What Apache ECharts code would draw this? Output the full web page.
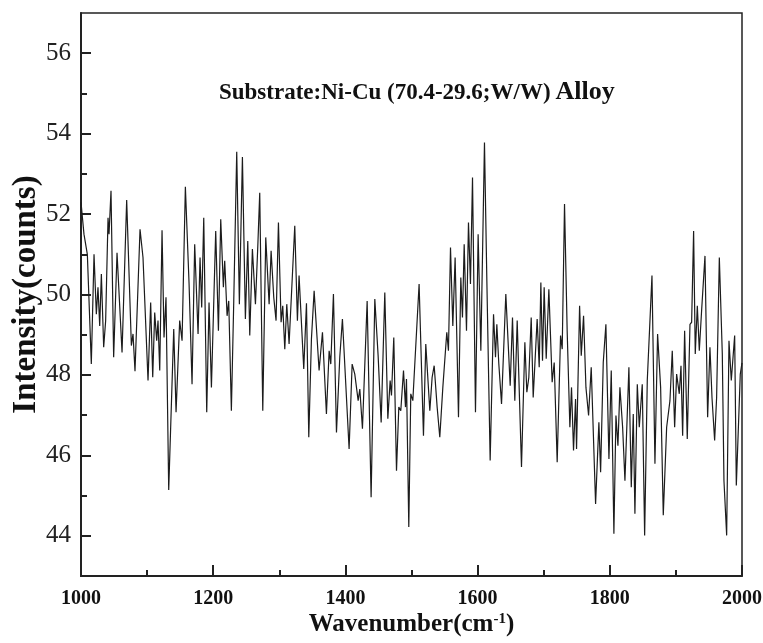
<!DOCTYPE html>
<html>
<head>
<meta charset="utf-8">
<script src="https://cdn.jsdelivr.net/npm/echarts@6/dist/echarts.min.js"></script>
<style>html,body{margin:0;padding:0;background:#fff}#c{width:763px;height:643px}</style>
</head>
<body>
<div id="c"></div>
<script>
// Data: [wavenumber (cm-1), intensity (counts)]
const segment1 = [[1000,52.29],[1004.5,51.5],[1009.6,51.0],[1015.6,48.27],[1019.7,51.0],[1023.2,49.51],[1025.7,50.18],[1028.3,49.22],[1030.8,50.51],[1034.3,48.69],[1037.3,49.35],[1040.9,51.91],[1042.4,51.5],[1045.4,52.58],[1049.4,48.44],[1054.5,51.04],[1062.1,48.56],[1069.1,52.35],[1076.2,48.73],[1078.7,49.02],[1081.7,48.09],[1089.3,51.62],[1093.8,50.92],[1101.4,47.86],[1105.4,49.80],[1108.5,47.94],[1111.5,49.55],[1114.5,48.85],[1116.5,49.35],[1119.1,48.11],[1122.6,51.60],[1125.6,48.93],[1128.6,49.93],[1132.7,45.14],[1140.3,49.14],[1143.8,47.07],[1149.3,49.35],[1152.9,48.85],[1157.9,52.68],[1163.5,50.26],[1168.0,47.77],[1172.0,51.25],[1177.1,49.02],[1180.1,50.92],[1182.6,49.68],[1185.7,51.91],[1190.2,47.07],[1193.7,49.80],[1197.3,47.69],[1203.8,51.58],[1207.9,49.10],[1211.4,51.87],[1215.4,50.18],[1217.4,50.84],[1221.0,49.47],[1223.5,49.84],[1227.5,47.11],[1231.1,49.84],[1235.6,53.55],[1239.6,49.76],[1244.2,53.42],[1248.7,49.39],[1252.3,51.33]];
const segment2 = [[1255.3,48.98],[1259.3,51.13],[1263.9,49.76],[1267.4,51.17],[1270.4,52.53],[1275.0,47.11],[1279.5,51.42],[1284.6,49.76],[1287.6,51.09],[1291.6,49.93],[1295.1,49.35],[1298.7,51.79],[1302.7,49.31],[1305.2,49.72],[1308.3,48.64],[1311.3,49.76],[1314.8,48.77],[1323.4,51.71],[1327.4,49.35],[1329.9,50.47],[1337.0,48.15],[1341.1,49.78],[1344.6,46.45],[1348.6,48.89],[1352.7,50.09],[1360.2,48.11],[1365.3,49.06],[1371.3,47.03],[1375.4,48.60],[1377.9,48.27],[1381.9,50.01],[1386.5,46.57],[1391.5,48.44],[1395.5,49.39],[1401.6,47.44],[1405.6,46.16],[1410.2,48.27],[1414.2,48.02],[1419.3,47.36],[1421.8,47.65],[1425.8,46.66],[1432.9,49.84],[1438.9,44.96],[1444.5,49.89],[1449.5,48.48],[1454.1,46.82],[1459.6,50.05],[1464.2,46.91],[1467.7,47.86],[1469.7,47.49],[1473.2,48.93],[1477.3,45.62],[1480.8,47.20],[1483.8,47.11],[1487.9,48.11],[1490.9,47.20],[1492.4,47.90],[1495.9,44.22]];
const segment3 = [[1498.9,47.53],[1502.0,47.36],[1511.5,50.26],[1518.1,46.49],[1521.6,48.77],[1527.7,47.11],[1531.2,47.94],[1534.3,48.23],[1538.8,47.20],[1542.8,46.45],[1547.4,47.69],[1553.4,49.06],[1555.9,48.60],[1559.0,51.17],[1562.5,49.22],[1566.0,50.92],[1571.1,46.95],[1574.6,50.42],[1577.1,49.43],[1579.7,51.25],[1583.2,49.10],[1586.2,51.79],[1589.2,50.26],[1592.3,52.91],[1596.8,47.07],[1600.8,51.50],[1604.9,48.60],[1610.4,53.78],[1614.0,50.34],[1619.0,45.87],[1624.1,49.51],[1627.1,48.44],[1629.1,49.26],[1632.1,48.27],[1636.2,47.28],[1642.7,50.01],[1649.3,47.73],[1652.8,49.43],[1656.3,47.36],[1659.9,49.35],[1666.4,45.71],[1671.5,48.81],[1674.5,47.57],[1677.5,47.94],[1681.1,49.43],[1684.1,47.44],[1690.1,49.39],[1693.2,48.19],[1695.7,50.30],[1698.2,48.35],[1700.7,50.18],[1703.8,48.40],[1707.8,50.13],[1712.8,47.82],[1715.9,48.31],[1720.4,45.83],[1725.5,48.98],[1728.0,48.64],[1731.5,52.25],[1735.5,49.10],[1739.6,46.70],[1742.1,47.69],[1745.1,46.12],[1748.2,47.40]];
const segment4 = [[1749.7,46.16],[1754.3,49.72],[1756.8,48.48],[1760.3,49.47],[1763.9,47.69],[1767.9,46.99],[1771.9,48.19],[1778.5,44.79],[1783.5,46.82],[1786.1,45.58],[1790.1,48.31],[1794.1,49.26],[1798.7,45.91],[1802.2,48.11],[1806.2,44.05],[1809.3,46.99],[1812.3,46.24],[1815.3,47.69],[1819.4,46.70],[1822.9,45.37],[1828.9,48.19],[1832.5,45.21],[1835.5,47.03],[1838.0,44.55],[1841.6,47.77],[1844.6,46.70],[1849.1,47.77],[1852.7,44.01],[1856.7,47.86],[1863.8,50.47],[1868.3,45.79],[1872.3,49.02],[1876.9,47.69],[1880.9,44.51],[1886.0,46.70],[1891.0,47.36],[1894.5,48.60],[1898.1,46.70],[1901.1,48.02],[1905.1,47.53],[1907.7,48.23],[1910.2,46.49],[1913.2,49.10],[1917.2,46.41],[1921.3,49.26],[1923.8,49.31],[1926.8,51.58],[1929.3,48.52],[1932.4,49.72],[1935.4,48.60],[1938.9,49.60],[1944.0,50.96],[1948.0,46.95],[1951.5,48.69],[1954.6,47.44],[1958.6,46.37],[1961.6,47.44],[1965.7,50.92],[1970.2,48.52],[1972.7,45.37],[1976.8,44.01],[1980.3,48.85],[1983.8,47.86],[1988.9,48.98],[1991.4,45.25],[1994.9,46.86],[1997.4,48.02],[2000,48.3]];

const yMajorTicks = [44, 46, 48, 50, 52, 54, 56];
const yMinorTicks = [45, 47, 49, 51, 53, 55];
const xTicks = [1000, 1200, 1400, 1600, 1800, 2000];
const annotationMain = 'Substrate:Ni-Cu (70.4-29.6;W/W)';
const annotationTail = 'Alloy';

const spectrum = segment1.concat(segment2, segment3, segment4);

const SERIF = '"Liberation Serif","Times New Roman",serif';
const AX = '#222';

const chart = echarts.init(document.getElementById('c'), null, {renderer: 'canvas'});
chart.setOption({
  backgroundColor: '#fff',
  animation: false,
  title: {
    text: '{a|' + annotationMain + '} {b|' + annotationTail + '}',
    left: 214, top: 74,
    textStyle: {
      rich: {
        a: {fontFamily: SERIF, fontWeight: 'bold', fontSize: 23, color: '#111', verticalAlign: 'bottom'},
        b: {fontFamily: SERIF, fontWeight: 'bold', fontSize: 26, color: '#111', verticalAlign: 'bottom'}
      }
    }
  },
  grid: {left: 81, right: 21, top: 13, bottom: 67, containLabel: false, outerBoundsMode: 'none', show: true, borderColor: AX, borderWidth: 1.5, backgroundColor: 'transparent'},
  xAxis: {
    type: 'value', min: 1000, max: 2000, interval: 200,
    name: '{n|Wavenumber(cm}{s|-1}{n|)}',
    nameLocation: 'middle', nameGap: 36, nameMoveOverlap: false,
    nameTextStyle: {
      rich: {
        n: {fontFamily: SERIF, fontWeight: 'bold', fontSize: 25, color: '#111'},
        s: {fontFamily: SERIF, fontWeight: 'bold', fontSize: 15, color: '#111', verticalAlign: 'top', padding: [0, 0, 10, 0]}
      }
    },
    axisLine: {show: true, lineStyle: {color: AX, width: 2}},
    axisTick: {show: true, inside: true, length: 11, lineStyle: {color: AX, width: 2}},
    minorTick: {show: true, splitNumber: 2, length: 6, lineStyle: {color: AX, width: 2}},
    axisLabel: {
      customValues: xTicks,
      formatter: function (v) { return String(Math.round(v)); },
      fontFamily: SERIF, fontWeight: 'bold', fontSize: 20, color: '#111', margin: 13
    },
    splitLine: {show: false}
  },
  yAxis: [{
    type: 'value', min: 43, max: 57, interval: 1,
    name: 'Intensity(counts)',
    nameLocation: 'middle', nameGap: 38, nameRotate: 90, nameMoveOverlap: false,
    nameTextStyle: {fontFamily: SERIF, fontWeight: 'bold', fontSize: 33, color: '#111'},
    axisLine: {show: true, lineStyle: {color: AX, width: 2}},
    axisTick: {show: true, inside: true, length: 10, customValues: yMajorTicks, lineStyle: {color: AX, width: 2}},
    axisLabel: {customValues: yMajorTicks, formatter: function (v) { return String(Math.round(v)); }, fontFamily: SERIF, fontSize: 25, color: '#222', margin: 10},
    splitLine: {show: false}
  }, {
    type: 'value', min: 43, max: 57, interval: 1, position: 'left',
    axisLine: {show: false},
    axisTick: {show: true, inside: true, length: 6, customValues: yMinorTicks, lineStyle: {color: AX, width: 2}},
    axisLabel: {show: false},
    splitLine: {show: false}
  }],
  series: [{
    type: 'line',
    data: spectrum,
    yAxisIndex: 0,
    showSymbol: false,
    symbol: 'none',
    smooth: false,
    lineStyle: {color: '#1c1c1c', width: 1.2},
    silent: true
  }]
});
</script>
</body>
</html>
